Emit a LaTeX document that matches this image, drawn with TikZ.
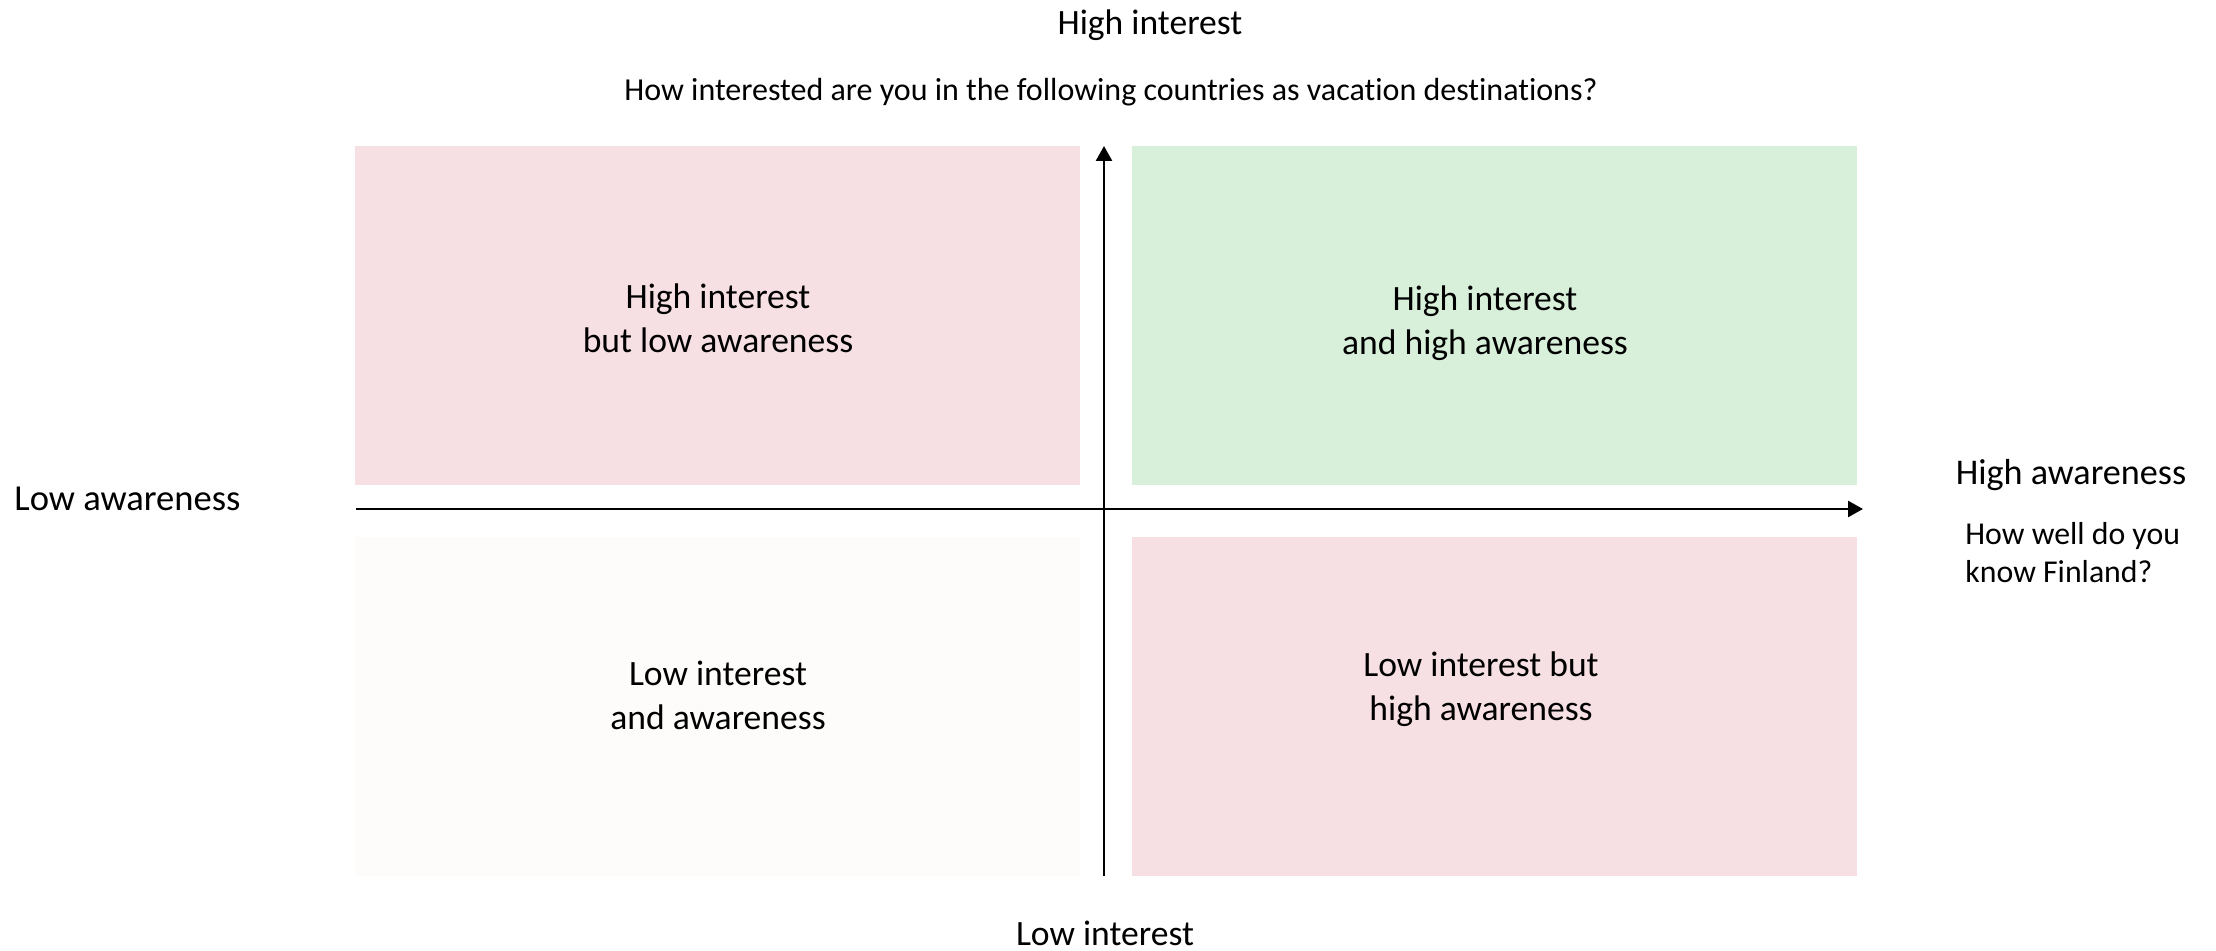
\documentclass[tikz,border=0pt]{standalone}
\usepackage{fontspec}
\setmainfont{Carlito}[Ligatures=NoCommon]
\usetikzlibrary{arrows.meta}
\definecolor{qpink}{HTML}{F7E0E3}
\definecolor{qgreen}{HTML}{D8EFDA}
\definecolor{qwhite}{HTML}{FDFCFA}
\tikzset{
  lbl/.style={anchor=base, inner sep=0pt, font=\fontsize{17.8pt}{22pt}\selectfont},
  lbls/.style={anchor=base west, inner sep=0pt, font=\fontsize{15.9pt}{18.5pt}\selectfont},
  axis/.style={line width=1.3pt, -{Triangle[length=7.5pt,width=8pt]}}
}
\begin{document}
\begin{tikzpicture}[x=0.5pt,y=-0.5pt]
\useasboundingbox (0,0) rectangle (2216,951);
% quadrants
\fill[qpink] (355,146) rectangle (1080,485);
\fill[qgreen] (1132,146) rectangle (1857,485);
\fill[qwhite] (355,537) rectangle (1080,876);
\fill[qpink] (1132,537) rectangle (1857,876);
% axes
\coordinate (xs) at (356,509);
\coordinate (xe) at (1863,509);
\coordinate (ys) at (1104,876);
\coordinate (ye) at (1104,146);
\draw[axis] (xs) -- (xe);
\draw[axis] (ys) -- (ye);
% quadrant labels
\node[lbl] (tl1) at (718,309) {High interest};
\node[lbl] (tl2) at (718,353) {but low awareness};
\node[lbl] (tr1) at (1485,311) {High interest};
\node[lbl] (tr2) at (1485,355) {and high awareness};
\node[lbl] (bl1) at (718,685) {Low interest};
\node[lbl] (bl2) at (718,729) {and awareness};
\node[lbl] (br1) at (1481,676) {Low interest but};
\node[lbl] (br2) at (1481,720) {high awareness};
% axis labels
\node[lbl] (hi) at (1150,35) {High interest};
\node[lbl, font=\fontsize{16pt}{18.5pt}\selectfont] (q) at (1111,101) {How interested are you in the following countries as vacation destinations?};
\node[lbl] (li) at (1105,945) {Low interest};
\node[lbl, anchor=base west, font=\fontsize{18.3pt}{22pt}\selectfont] (la) at (14,511) {Low awareness};
\node[lbl, font=\fontsize{18.1pt}{22pt}\selectfont] (ha) at (2071,485) {High awareness};
\node[lbls] (hw1) at (1965,545) {How well do you};
\node[lbls] (hw2) at (1965,582) {know Finland?};
\end{tikzpicture}
\end{document}
